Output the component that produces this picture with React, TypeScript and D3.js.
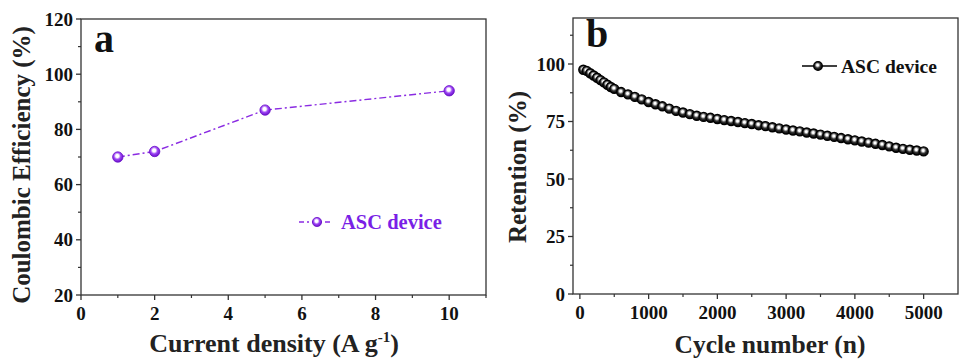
import * as d3 from "d3";
import { useEffect, useRef } from "react";

// panel a: coulombic efficiency vs current density
const densities = [1, 2, 5, 10];
const efficiency = [70, 72, 87, 94];

// panel b: retention over cycles
const cycles = [
  50, 100, 150, 200, 250, 300, 350, 400, 450, 500, 600, 700, 800, 900, 1000,
  1100, 1200, 1300, 1400, 1500, 1600, 1700, 1800, 1900, 2000, 2100, 2200, 2300,
  2400, 2500, 2600, 2700, 2800, 2900, 3000, 3100, 3200, 3300, 3400, 3500, 3600,
  3700, 3800, 3900, 4000, 4100, 4200, 4300, 4400, 4500, 4600, 4700, 4800, 4900,
  5000,
];
const retention = [
  97.5, 97, 96, 95, 94, 93, 92, 91, 90, 89.2, 87.8, 86.8, 85.7, 84.6, 83.5,
  82.5, 81.6, 80.6, 79.6, 78.9, 78.2, 77.5, 77, 76.6, 76.1, 75.6, 75.2, 74.8,
  74.3, 73.9, 73.4, 73, 72.5, 72, 71.5, 71.1, 70.7, 70.2, 69.8, 69.3, 68.8,
  68.3, 67.8, 67.3, 66.8, 66.3, 65.8, 65.3, 64.8, 64.2, 63.6, 63.1, 62.7, 62.4,
  62,
];

const seriesName = "ASC device";
const FONT = "Liberation Serif, Times New Roman, serif";
const PURPLE = "#8a2be2";
const PURPLE_TEXT = "#7a1fe6";

const W = 959;
const H = 361;

type Panel = {
  box: { left: number; right: number; top: number; bottom: number };
  xDomain: [number, number];
  yDomain: [number, number];
  xMajor: number[];
  xMinor: number[];
  yMajor: number[];
  yMinor: number[];
};

const App = () => {
  const svgRef = useRef<SVGSVGElement>(null);

  useEffect(() => {
    const svgEl = svgRef.current;
    if (!svgEl) return;
    const svg = d3.select(svgEl);
    svg.selectAll("*").remove();

    const defs = svg.append("defs");
    const ball = (id: string, mid: string, dark: string, white: number) => {
      const g = defs
        .append("radialGradient")
        .attr("id", id)
        .attr("cx", "45%")
        .attr("cy", "40%")
        .attr("r", "60%");
      g.append("stop").attr("offset", "0%").attr("stop-color", "#ffffff");
      g.append("stop").attr("offset", `${white}%`).attr("stop-color", "#ffffff");
      g.append("stop").attr("offset", "55%").attr("stop-color", mid);
      g.append("stop").attr("offset", "100%").attr("stop-color", dark);
    };
    ball("ballPurple", "#9d45f5", "#6a10c8", 25);
    ball("ballBlack", "#333333", "#000000", 18);

    const drawFrame = (p: Panel) => {
      const x = d3
        .scaleLinear()
        .domain(p.xDomain)
        .range([p.box.left, p.box.right]);
      const y = d3
        .scaleLinear()
        .domain(p.yDomain)
        .range([p.box.bottom, p.box.top]);
      const g = svg.append("g");
      g.append("rect")
        .attr("x", p.box.left)
        .attr("y", p.box.top)
        .attr("width", p.box.right - p.box.left)
        .attr("height", p.box.bottom - p.box.top)
        .attr("fill", "none")
        .attr("stroke", "#333")
        .attr("stroke-width", 1.3);
      const tick = "#333";
      g.selectAll("line.xmaj")
        .data(p.xMajor)
        .enter()
        .append("line")
        .attr("x1", (t) => x(t))
        .attr("x2", (t) => x(t))
        .attr("y1", p.box.bottom)
        .attr("y2", p.box.bottom + 5)
        .attr("stroke", tick)
        .attr("stroke-width", 1.3);
      g.selectAll("line.xmin")
        .data(p.xMinor)
        .enter()
        .append("line")
        .attr("x1", (t) => x(t))
        .attr("x2", (t) => x(t))
        .attr("y1", p.box.bottom)
        .attr("y2", p.box.bottom + 3)
        .attr("stroke", tick)
        .attr("stroke-width", 1.2);
      g.selectAll("line.ymaj")
        .data(p.yMajor)
        .enter()
        .append("line")
        .attr("x1", p.box.left - 5)
        .attr("x2", p.box.left)
        .attr("y1", (t) => y(t))
        .attr("y2", (t) => y(t))
        .attr("stroke", tick)
        .attr("stroke-width", 1.3);
      g.selectAll("line.ymin")
        .data(p.yMinor)
        .enter()
        .append("line")
        .attr("x1", p.box.left - 3)
        .attr("x2", p.box.left)
        .attr("y1", (t) => y(t))
        .attr("y2", (t) => y(t))
        .attr("stroke", tick)
        .attr("stroke-width", 1.2);
      g.selectAll("text.xl")
        .data(p.xMajor)
        .enter()
        .append("text")
        .attr("x", (t) => x(t))
        .attr("y", p.box.bottom + 25)
        .attr("text-anchor", "middle")
        .attr("font-family", FONT)
        .attr("font-weight", "bold")
        .attr("font-size", 19)
        .attr("fill", "#111")
        .text((t) => String(t));
      g.selectAll("text.yl")
        .data(p.yMajor)
        .enter()
        .append("text")
        .attr("x", p.box.left - 8)
        .attr("y", (t) => y(t) + 6.5)
        .attr("text-anchor", "end")
        .attr("font-family", FONT)
        .attr("font-weight", "bold")
        .attr("font-size", 19)
        .attr("fill", "#111")
        .text((t) => String(t));
      return { x, y, g };
    };

    // ---- panel a
    const a = drawFrame({
      box: { left: 81, right: 486, top: 19, bottom: 295 },
      xDomain: [0, 11],
      yDomain: [20, 120],
      xMajor: [0, 2, 4, 6, 8, 10],
      xMinor: [1, 3, 5, 7, 9, 11],
      yMajor: [20, 40, 60, 80, 100, 120],
      yMinor: [30, 50, 70, 90, 110],
    });
    const aPts = densities.map((d, i) => ({ x: d, y: efficiency[i] }));
    a.g
      .append("path")
      .datum(aPts)
      .attr(
        "d",
        d3
          .line<{ x: number; y: number }>()
          .x((d) => a.x(d.x))
          .y((d) => a.y(d.y)),
      )
      .attr("fill", "none")
      .attr("stroke", PURPLE)
      .attr("stroke-width", 1.4)
      .attr("stroke-dasharray", "7,3,2,3");
    a.g
      .selectAll("circle.pa")
      .data(aPts)
      .enter()
      .append("circle")
      .attr("cx", (d) => a.x(d.x))
      .attr("cy", (d) => a.y(d.y))
      .attr("r", 5.2)
      .attr("fill", "url(#ballPurple)")
      .attr("stroke", "#6a10c8")
      .attr("stroke-width", 0.8);
    a.g
      .append("text")
      .attr("x", 94)
      .attr("y", 52)
      .attr("font-family", FONT)
      .attr("font-weight", "bold")
      .attr("font-size", 40)
      .attr("fill", "#111")
      .text("a");
    // legend a
    a.g
      .append("line")
      .attr("x1", 299)
      .attr("x2", 331)
      .attr("y1", 222)
      .attr("y2", 222)
      .attr("stroke", PURPLE)
      .attr("stroke-width", 1.4)
      .attr("stroke-dasharray", "5,3,2,3");
    a.g
      .append("circle")
      .attr("cx", 317)
      .attr("cy", 222)
      .attr("r", 4.6)
      .attr("fill", "url(#ballPurple)")
      .attr("stroke", "#6a10c8")
      .attr("stroke-width", 0.8);
    a.g
      .append("text")
      .attr("x", 341)
      .attr("y", 228.5)
      .attr("font-family", FONT)
      .attr("font-weight", "bold")
      .attr("font-size", 20.5)
      .attr("fill", PURPLE_TEXT)
      .text(seriesName);
    // titles a
    const xt = a.g
      .append("text")
      .attr("x", 274)
      .attr("y", 352)
      .attr("text-anchor", "middle")
      .attr("font-family", FONT)
      .attr("font-weight", "bold")
      .attr("font-size", 26)
      .attr("fill", "#222");
    xt.append("tspan").text("Current density (A g");
    xt.append("tspan")
      .attr("dy", -10)
      .attr("font-size", 15)
      .text("-1");
    xt.append("tspan").attr("dy", 10).text(")");
    a.g
      .append("text")
      .attr("transform", "translate(30,165) rotate(-90)")
      .attr("text-anchor", "middle")
      .attr("font-family", FONT)
      .attr("font-weight", "bold")
      .attr("font-size", 25)
      .attr("fill", "#222")
      .text("Coulombic Efficiency (%)");

    // ---- panel b
    const b = drawFrame({
      box: { left: 573, right: 958, top: 18, bottom: 294 },
      xDomain: [-100, 5500],
      yDomain: [0, 120],
      xMajor: [0, 1000, 2000, 3000, 4000, 5000],
      xMinor: [500, 1500, 2500, 3500, 4500],
      yMajor: [0, 25, 50, 75, 100],
      yMinor: [12.5, 37.5, 62.5, 87.5, 112.5],
    });
    const bPts = cycles.map((c, i) => ({ x: c, y: retention[i] }));
    b.g
      .append("path")
      .datum(bPts)
      .attr(
        "d",
        d3
          .line<{ x: number; y: number }>()
          .x((d) => b.x(d.x))
          .y((d) => b.y(d.y)),
      )
      .attr("fill", "none")
      .attr("stroke", "#000")
      .attr("stroke-width", 1.4);
    b.g
      .selectAll("circle.pb")
      .data(bPts)
      .enter()
      .append("circle")
      .attr("cx", (d) => b.x(d.x))
      .attr("cy", (d) => b.y(d.y))
      .attr("r", 4.5)
      .attr("fill", "url(#ballBlack)")
      .attr("stroke", "#000")
      .attr("stroke-width", 1.4);
    b.g
      .append("text")
      .attr("x", 586)
      .attr("y", 47)
      .attr("font-family", FONT)
      .attr("font-weight", "bold")
      .attr("font-size", 40)
      .attr("fill", "#111")
      .text("b");
    // legend b
    b.g
      .append("line")
      .attr("x1", 802)
      .attr("x2", 837)
      .attr("y1", 66)
      .attr("y2", 66)
      .attr("stroke", "#000")
      .attr("stroke-width", 1.4);
    b.g
      .append("circle")
      .attr("cx", 818)
      .attr("cy", 66)
      .attr("r", 4.3)
      .attr("fill", "url(#ballBlack)")
      .attr("stroke", "#000")
      .attr("stroke-width", 1.3);
    b.g
      .append("text")
      .attr("x", 841)
      .attr("y", 72.5)
      .attr("font-family", FONT)
      .attr("font-weight", "bold")
      .attr("font-size", 19.5)
      .attr("fill", "#111")
      .text(seriesName);
    b.g
      .append("text")
      .attr("x", 770)
      .attr("y", 353)
      .attr("text-anchor", "middle")
      .attr("font-family", FONT)
      .attr("font-weight", "bold")
      .attr("font-size", 25.5)
      .attr("fill", "#222")
      .text("Cycle number (n)");
    b.g
      .append("text")
      .attr("transform", "translate(526,167) rotate(-90)")
      .attr("text-anchor", "middle")
      .attr("font-family", FONT)
      .attr("font-weight", "bold")
      .attr("font-size", 25)
      .attr("fill", "#222")
      .text("Retention (%)");
  }, []);

  return (
    <svg
      ref={svgRef}
      width={W}
      height={H}
      style={{ position: "absolute", left: 0, top: 0, background: "#fff" }}
    />
  );
};

export default App;
